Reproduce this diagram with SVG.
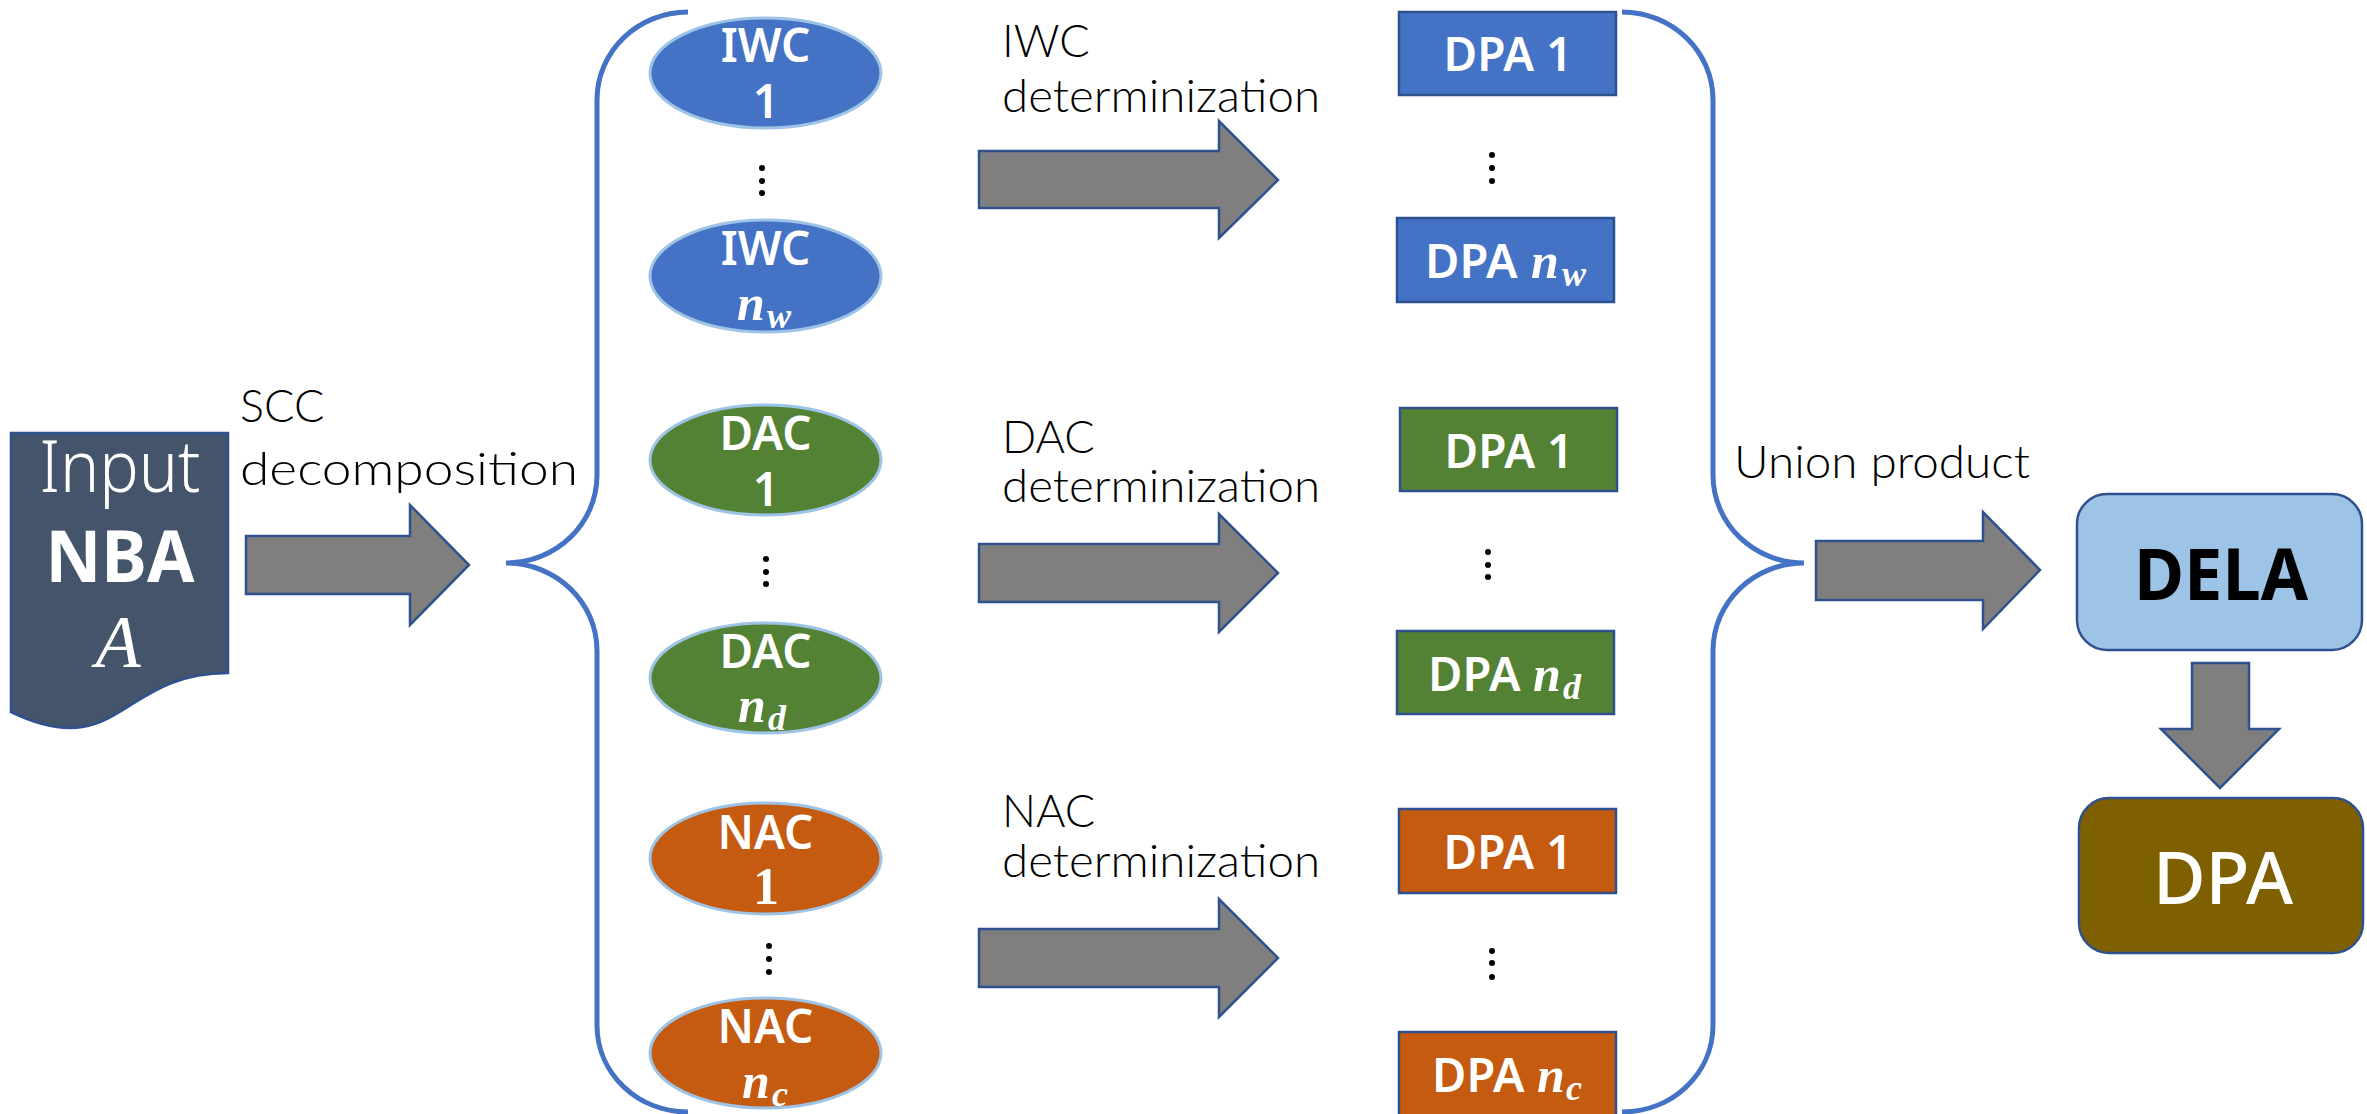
<svg xmlns="http://www.w3.org/2000/svg" width="2367" height="1114" viewBox="0 0 2367 1114">
<style>
.lbl{font-family:Lato,"Noto Sans",sans-serif;font-weight:300;font-size:45px;fill:#000}
.wt{font-family:"Noto Sans","Open Sans",sans-serif;font-weight:600;font-size:46px;fill:#fff;text-anchor:middle}
.wl{font-family:"Noto Sans","Open Sans",sans-serif;font-weight:600;font-size:47px;fill:#fff}
.mi{font-family:"Liberation Serif","DejaVu Serif",serif;font-style:italic;font-weight:bold;font-size:50px;fill:#fff}
.ms{font-family:"Liberation Serif","DejaVu Serif",serif;font-style:italic;font-weight:bold;font-size:36px;fill:#fff}
.ell{stroke:#9DC3E6;stroke-width:3}
.box{stroke:#2F528F;stroke-width:2.5}
.arr{fill:#7F7F7F;stroke:#2F528F;stroke-width:2.5}
.brace{fill:none;stroke:#4472C4;stroke-width:5}
.dot{fill:#000}
.blue{fill:#4472C4}.green{fill:#548235}.orange{fill:#C55A11}
</style>

<g id="input-nba">
<path d="M11,433 H228 V673 C119.5,673 119.5,764 11,712 Z" fill="#44546A" stroke="#2F528F" stroke-width="2.5"/>
<text x="120" y="492" text-anchor="middle" font-family="Noto Sans, Open Sans, sans-serif" font-weight="300" font-size="72" fill="#fff" textLength="161" lengthAdjust="spacingAndGlyphs">Input</text>
<text x="120" y="582" text-anchor="middle" font-family="Noto Sans, Open Sans, sans-serif" font-weight="bold" font-size="72" fill="#fff" textLength="149" lengthAdjust="spacingAndGlyphs">NBA</text>
<text x="118" y="667" text-anchor="middle" font-family="Liberation Serif, serif" font-style="italic" font-size="74" fill="#fff">A</text>
</g>

<g id="labels">
<text class="lbl" x="240" y="422">SCC</text>
<text class="lbl" x="240" y="485" textLength="338" lengthAdjust="spacingAndGlyphs">decomposition</text>
<text class="lbl" x="1002" y="57">IWC</text>
<text class="lbl" x="1002" y="112" textLength="318" lengthAdjust="spacingAndGlyphs">determinization</text>
<text class="lbl" x="1002" y="453">DAC</text>
<text class="lbl" x="1002" y="502" textLength="318" lengthAdjust="spacingAndGlyphs">determinization</text>
<text class="lbl" x="1002" y="827">NAC</text>
<text class="lbl" x="1002" y="877" textLength="318" lengthAdjust="spacingAndGlyphs">determinization</text>
<text class="lbl" x="1734" y="478" textLength="296" lengthAdjust="spacingAndGlyphs">Union product</text>
</g>

<g id="connectors">
<polygon class="arr" points="246,536 410,536 410,505 469,565 410,625 410,594 246,594"/>
<polygon class="arr" points="979,151 1219,151 1219,121 1278,180 1219,238 1219,208 979,208"/>
<polygon class="arr" points="979,544 1219,544 1219,514 1278,573 1219,632 1219,602 979,602"/>
<polygon class="arr" points="979,929 1219,929 1219,899 1278,958 1219,1017 1219,987 979,987"/>
<polygon class="arr" points="1816,541 1983,541 1983,512 2040,570 1983,629 1983,600 1816,600"/>
<polygon class="arr" points="2192,663 2249,663 2249,729 2279,729 2220,788 2161,729 2192,729"/>
<path class="brace" d="M688,12 C638,12 597,51 597,100 V475 C597,524 556,563 506,563 C556,563 597,602 597,651 V1025 C597,1074 638,1112 688,1112"/>
<path class="brace" d="M1622,12 C1672,12 1713,51 1713,100 V475 C1713,524 1754,563 1804,563 C1754,563 1713,602 1713,651 V1025 C1713,1074 1672,1112 1622,1112"/>
</g>

<g id="iwc-1">
<ellipse class="ell blue" cx="765.5" cy="73" rx="115.5" ry="55"/>
<text class="wt" x="765.5" y="62">IWC</text>
<text class="wt" x="766" y="118">1</text>
</g>
<g id="iwc-dots"><circle class="dot" cx="762" cy="168" r="3"/><circle class="dot" cx="762" cy="181" r="3"/><circle class="dot" cx="762" cy="193" r="3"/></g>
<g id="iwc-nw">
<ellipse class="ell blue" cx="765.5" cy="276" rx="115.5" ry="56"/>
<text class="wt" x="765.5" y="265">IWC</text>
<text class="mi" x="737" y="320">n</text><text class="ms" x="767" y="328">w</text>
</g>

<g id="dac-1">
<ellipse class="ell green" cx="765.5" cy="460" rx="115.5" ry="55"/>
<text class="wt" x="765.5" y="450">DAC</text>
<text class="wt" x="766" y="506">1</text>
</g>
<g id="dac-dots"><circle class="dot" cx="766" cy="559" r="3"/><circle class="dot" cx="766" cy="572" r="3"/><circle class="dot" cx="766" cy="584" r="3"/></g>
<g id="dac-nd">
<ellipse class="ell green" cx="765.5" cy="678" rx="115.5" ry="55"/>
<text class="wt" x="765.5" y="668">DAC</text>
<text class="mi" x="738" y="722">n</text><text class="ms" x="768" y="730">d</text>
</g>

<g id="nac-1">
<ellipse class="ell orange" cx="765.5" cy="858.5" rx="115.5" ry="55.5"/>
<text class="wt" x="765.5" y="849">NAC</text>
<text x="766" y="904" text-anchor="middle" font-family="Liberation Serif, serif" font-weight="bold" font-size="52" fill="#fff">1</text>
</g>
<g id="nac-dots"><circle class="dot" cx="769" cy="946" r="3"/><circle class="dot" cx="769" cy="959" r="3"/><circle class="dot" cx="769" cy="972" r="3"/></g>
<g id="nac-nc">
<ellipse class="ell orange" cx="765.5" cy="1053" rx="115.5" ry="55"/>
<text class="wt" x="765.5" y="1043">NAC</text>
<text class="mi" x="742" y="1098">n</text><text class="ms" x="772" y="1106">c</text>
</g>

<g id="dpa-w1">
<rect class="box blue" x="1399" y="12" width="217" height="83"/>
<text class="wt" x="1508" y="71" font-size="47">DPA 1</text>
</g>
<g id="dpa-w-dots"><circle class="dot" cx="1492" cy="155" r="3"/><circle class="dot" cx="1492" cy="168" r="3"/><circle class="dot" cx="1492" cy="181" r="3"/></g>
<g id="dpa-wn">
<rect class="box blue" x="1397" y="218" width="217" height="84"/>
<text class="wl" x="1425" y="278">DPA</text>
<text class="mi" x="1531" y="278">n</text><text class="ms" x="1562" y="286">w</text>
</g>

<g id="dpa-d1">
<rect class="box green" x="1400" y="408" width="217" height="83"/>
<text class="wt" x="1509" y="468" font-size="47">DPA 1</text>
</g>
<g id="dpa-d-dots"><circle class="dot" cx="1488" cy="552" r="3"/><circle class="dot" cx="1488" cy="565" r="3"/><circle class="dot" cx="1488" cy="577" r="3"/></g>
<g id="dpa-dn">
<rect class="box green" x="1397" y="631" width="217" height="83"/>
<text class="wl" x="1428" y="691">DPA</text>
<text class="mi" x="1533" y="691">n</text><text class="ms" x="1563" y="699">d</text>
</g>

<g id="dpa-c1">
<rect class="box orange" x="1399" y="809" width="217" height="84"/>
<text class="wt" x="1508" y="869" font-size="47">DPA 1</text>
</g>
<g id="dpa-c-dots"><circle class="dot" cx="1492" cy="951" r="3"/><circle class="dot" cx="1492" cy="963" r="3"/><circle class="dot" cx="1492" cy="977" r="3"/></g>
<g id="dpa-cn">
<rect class="box orange" x="1399" y="1032" width="217" height="90"/>
<text class="wl" x="1432" y="1092">DPA</text>
<text class="mi" x="1537" y="1092">n</text><text class="ms" x="1566" y="1100">c</text>
</g>

<g id="dela">
<rect x="2077" y="494" width="285" height="156" rx="30" fill="#9DC3E6" stroke="#2F528F" stroke-width="2.5"/>
<text x="2221" y="600" text-anchor="middle" font-family="Noto Sans, Open Sans, sans-serif" font-weight="bold" font-size="72" fill="#000" textLength="174" lengthAdjust="spacingAndGlyphs">DELA</text>
</g>
<g id="dpa-final">
<rect x="2079" y="798" width="284" height="155" rx="30" fill="#7F6000" stroke="#2F528F" stroke-width="2.5"/>
<text x="2223" y="904" text-anchor="middle" font-family="Noto Sans, Open Sans, sans-serif" font-weight="500" font-size="72" fill="#fff">DPA</text>
</g>
</svg>
